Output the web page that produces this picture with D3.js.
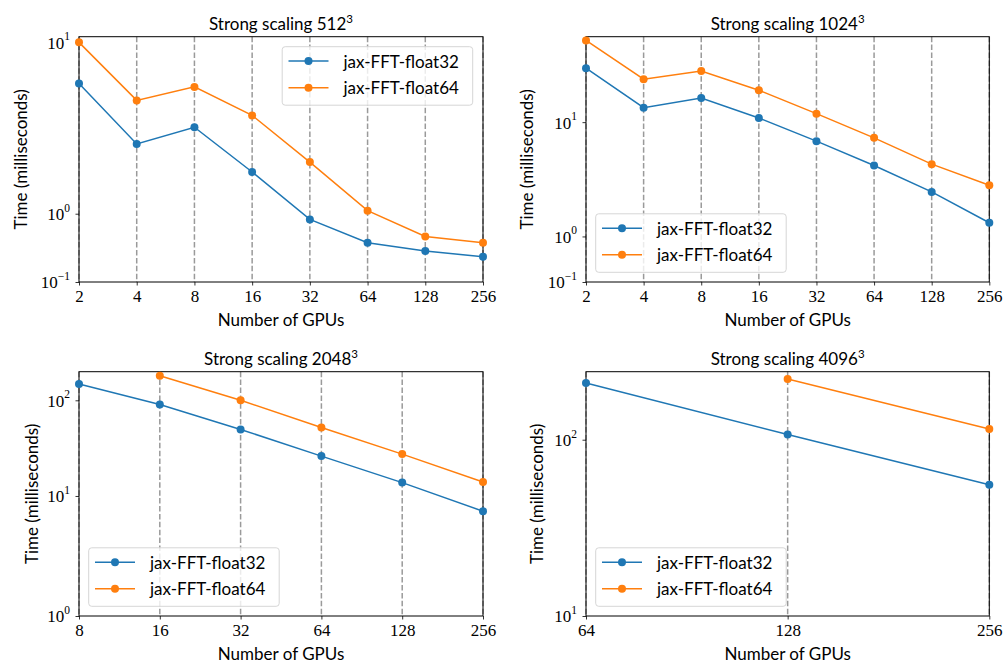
<!DOCTYPE html>
<html>
<head>
<meta charset="utf-8">
<script src="https://cdn.jsdelivr.net/npm/d3@7"></script>
<style>
  html, body { margin: 0; padding: 0; background: #fff; }
  svg { display: block; }
</style>
</head>
<body>
<svg id="chart" width="1004" height="664"></svg>
<script>
// ---- data ----
const seriesNames = ["jax-FFT-float32", "jax-FFT-float64"];
const titles = ["512", "1024", "2048", "4096"];

const gpus512 = [2, 4, 8, 16, 32, 64, 128, 256];
const f32_512 = [4.99, 1.92, 2.39, 1.55, 0.925, 0.617, 0.508, 0.433];
const f64_512 = [10.0, 3.76, 4.72, 2.92, 1.68, 1.04, 0.70, 0.617];

const gpus1024 = [2, 4, 8, 16, 32, 64, 128, 256];
const f32_1024 = [39.1, 14.4, 18.4, 11.1, 6.19, 3.34, 1.88, 1.27];
const f64_1024 = [78.8, 29.6, 36.5, 22.4, 12.4, 6.73, 3.46, 2.03];

const gpus2048 = [8, 16, 32, 64, 128, 256];
const f32_2048 = [148, 90.3, 49.6, 26.1, 13.8, 6.93];
const f64_2048 = [null, 181, 100, 52, 27.4, 14.0];

const gpus4096 = [64, 128, 256];
const f32_4096 = [210, 107, 55.5];
const f64_4096 = [null, 221, 115];

const yTicks512 = [0.1, 1, 10];
const yTicks1024 = [0.1, 1, 10];
const yTicks2048 = [1, 10, 100];
const yTicks4096 = [10, 100];

const colors = ["#1f77b4", "#ff7f0e"];

// ---- layout ----
const panels = [
  { title: titles[0], gpus: gpus512, s: [f32_512, f64_512], yt: yTicks512,
    x0: 79, x1: 483, y0: 36.7, y1: 282, legend: "ur", ylabOff: 58.5 },
  { title: titles[1], gpus: gpus1024, s: [f32_1024, f64_1024], yt: yTicks1024,
    x0: 586, x1: 989.3, y0: 36.7, y1: 282, legend: "ll", ylabOff: 59.3 },
  { title: titles[2], gpus: gpus2048, s: [f32_2048, f64_2048], yt: yTicks2048,
    x0: 79, x1: 483, y0: 371.7, y1: 616, legend: "ll", ylabOff: 47.5 },
  { title: titles[3], gpus: gpus4096, s: [f32_4096, f64_4096], yt: yTicks4096,
    x0: 586, x1: 989.3, y0: 371.7, y1: 616, legend: "ll", ylabOff: 49.3 }
];

const SANS = "Lato, 'Open Sans', sans-serif";
const SERIF = "'Liberation Serif', 'DejaVu Serif', serif";

// matplotlib-like symlog transform (linthresh=2, linscale=1, base=10)
function symlog(v) {
  const lt = 2, ls = 1 / (1 - 1 / 10);
  const a = Math.abs(v);
  return a <= lt ? v * ls : Math.sign(v) * lt * (ls + Math.log10(a / lt));
}

const svg = d3.select("#chart");

panels.forEach(p => {
  const g = svg.append("g");
  const x = d3.scaleLog().base(2)
    .domain(d3.extent(p.gpus))
    .range([p.x0, p.x1]);
  const allVals = p.s.flat().filter(v => v != null);
  const yMax = d3.max(allVals) * 1.1;
  const yLin = d3.scaleLinear()
    .domain([symlog(p.yt[0]), symlog(yMax)])
    .range([p.y1, p.y0]);
  const y = v => yLin(symlog(v));
  y.copy = () => y;
  y.range = () => yLin.range();
  y.domain = () => [p.yt[0], yMax];

  // grid (vertical dashed)
  g.append("g").selectAll("line").data(p.gpus).join("line")
    .attr("x1", d => x(d)).attr("x2", d => x(d))
    .attr("y1", p.y0).attr("y2", p.y1)
    .attr("stroke", "#9a9a9a").attr("stroke-width", 1.5)
    .attr("stroke-dasharray", "5.5,2.4");

  // frame
  g.append("rect")
    .attr("x", p.x0).attr("y", p.y0)
    .attr("width", p.x1 - p.x0).attr("height", p.y1 - p.y0)
    .attr("fill", "none").attr("stroke", "#000").attr("stroke-width", 1);

  // x axis
  const xa = g.append("g").attr("transform", `translate(0,${p.y1})`)
    .call(d3.axisBottom(x).tickValues(p.gpus).tickFormat(d => d).tickSize(3.5).tickPadding(4));
  xa.select(".domain").remove();
  xa.selectAll("line").attr("stroke", "#000").attr("stroke-width", 0.8);
  xa.selectAll("text").attr("font-family", SERIF).attr("font-size", 17).attr("fill", "#000");

  // y axis
  const ya = g.append("g").attr("transform", `translate(${p.x0},0)`)
    .call(d3.axisLeft(y).tickValues(p.yt).tickFormat(() => "").tickSize(3.5).tickPadding(4));
  ya.select(".domain").remove();
  ya.selectAll("line").attr("stroke", "#000").attr("stroke-width", 0.8);
  ya.selectAll("text").each(function(d) {
    const t = d3.select(this)
      .attr("font-family", SERIF).attr("font-size", 17).attr("fill", "#000")
      .attr("dy", "0.35em").attr("x", -9);
    t.text(null);
    const e = Math.round(Math.log10(d));
    t.append("tspan").text("10");
    t.append("tspan").attr("font-size", 11.5).attr("dy", "-0.75em")
      .text(e < 0 ? "\u2212" + Math.abs(e) : String(e));
  });

  // series
  p.s.forEach((vals, i) => {
    const pts = p.gpus.map((gp, j) => ({ gp, v: vals[j] })).filter(d => d.v != null);
    g.append("path").datum(pts)
      .attr("fill", "none").attr("stroke", colors[i]).attr("stroke-width", 1.5)
      .attr("d", d3.line().x(d => x(d.gp)).y(d => y(d.v)));
    g.append("g").selectAll("circle").data(pts).join("circle")
      .attr("cx", d => x(d.gp)).attr("cy", d => y(d.v)).attr("r", 4)
      .attr("fill", colors[i]);
  });

  // title
  const tt = g.append("text")
    .attr("x", (p.x0 + p.x1) / 2).attr("y", p.y0 - 7)
    .attr("text-anchor", "middle").attr("font-family", SANS).attr("font-size", 17)
    .attr("fill", "#000");
  tt.append("tspan").text("Strong scaling " + p.title);
  tt.append("tspan").attr("font-size", 11.5).attr("dy", "-0.6em").text("3");

  // axis labels
  g.append("text")
    .attr("x", (p.x0 + p.x1) / 2).attr("y", p.y1 + 37)
    .attr("text-anchor", "middle").attr("dominant-baseline", "central")
    .attr("font-family", SANS).attr("font-size", 17).attr("fill", "#000")
    .text("Number of GPUs");
  g.append("text")
    .attr("transform", `translate(${p.x0 - p.ylabOff},${(p.y0 + p.y1) / 2}) rotate(-90)`)
    .attr("text-anchor", "middle").attr("dominant-baseline", "central")
    .attr("font-family", SANS).attr("font-size", 17).attr("fill", "#000")
    .text("Time (milliseconds)");

  // legend
  const lw = 190.5, lh = 58.5;
  const lx = p.legend === "ur" ? p.x1 - 10.3 - lw : p.x0 + 9.7;
  const ly = p.legend === "ur" ? p.y0 + 10 : p.y1 - 9.7 - lh;
  const lg = g.append("g").attr("transform", `translate(${lx},${ly})`);
  lg.append("rect").attr("width", lw).attr("height", lh).attr("rx", 3)
    .attr("fill", "rgba(255,255,255,0.8)").attr("stroke", "#d6d6d6").attr("stroke-width", 1);
  seriesNames.forEach((name, i) => {
    const ry = 14.4 + i * 26.6;
    lg.append("line").attr("x1", 6.3).attr("x2", 46.3).attr("y1", ry).attr("y2", ry)
      .attr("stroke", colors[i]).attr("stroke-width", 1.5);
    lg.append("circle").attr("cx", 26.3).attr("cy", ry).attr("r", 4).attr("fill", colors[i]);
    lg.append("text").attr("x", 61.3).attr("y", ry).attr("dominant-baseline", "central")
      .attr("font-family", SANS).attr("font-size", 17).attr("fill", "#000").text(name);
  });
});
</script>
</body>
</html>
